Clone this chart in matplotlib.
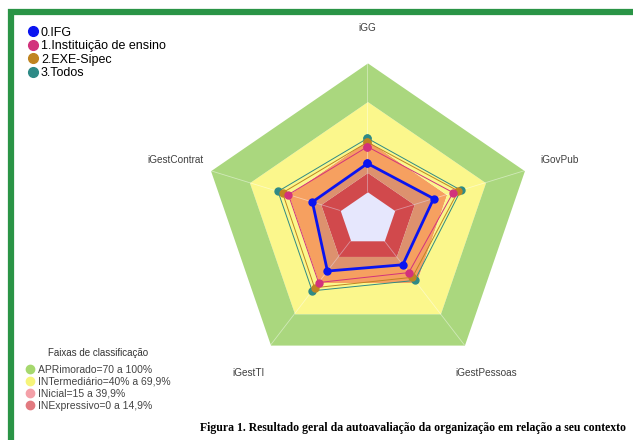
import numpy as np
import matplotlib.pyplot as plt
from matplotlib.lines import Line2D
from matplotlib.patches import Rectangle

axis_labels = ['iGG', 'iGovPub', 'iGestPessoas', 'iGestTI', 'iGestContrat']
series_names = ['0.IFG', '1.Instituição de ensino', '2.EXE-Sipec', '3.Todos']
ifg = [22, 30, 23, 29, 21.5]
instituicao = [35, 45, 30.5, 40, 40]
exe_sipec = [38.5, 49, 35, 45, 44.5]
todos = [41.5, 51, 38, 48, 48]
band_edges = [0, 15, 40, 70, 100]
band_names = ['APRimorado=70 a 100%', 'INTermediário=40% a 69,9%',
              'INicial=15 a 39,9%', 'INExpressivo=0 a 14,9%']
caption = 'Figura 1. Resultado geral da autoavaliação da organização em relação a seu contexto'

series = [ifg, instituicao, exe_sipec, todos]
series_colors = ['#0a14f0', '#d2327c', '#c08420', '#2e8a86']
band_colors = ['#e8503a', '#f6a060', '#fbf78c', '#aad77e']   # inner -> outer
legend_band_colors = ['#a6d86e', '#f6f47a', '#f4a0a8', '#e27a80']

plt.rcParams['font.family'] = ['Liberation Sans', 'DejaVu Sans']

fig = plt.figure(figsize=(6.33, 4.4), dpi=100)
ax = fig.add_axes([0.3199, 0.148, 0.5213, 0.709], projection='polar')
ax.set_theta_offset(np.pi / 2)
ax.set_theta_direction(-1)
ax.set_rorigin(-21)
ax.set_ylim(0, 100)
ax.set_aspect('auto')
ax.axis('off')

theta = np.arange(len(axis_labels)) * 2 * np.pi / len(axis_labels)
tc = np.append(theta, theta[0])

# classification bands
for i in range(len(band_edges) - 1):
    lo = np.full(len(tc), band_edges[i])
    hi = np.full(len(tc), band_edges[i + 1])
    ax.fill_between(tc, lo, hi, color=band_colors[i], lw=0, zorder=1, clip_on=False)

# spokes
for t in theta:
    ax.plot([t, t], [0, 100], color='white', lw=0.6, alpha=0.45, zorder=2)

# series
for vals, col, name in list(zip(series, series_colors, series_names))[::-1]:
    vc = np.append(vals, vals[0])
    if name == '0.IFG':
        ax.fill(tc, vc, color=col, alpha=0.1, lw=0, zorder=3, clip_on=False)
        ax.plot(tc, vc, color=col, lw=2, marker='o', ms=5, zorder=5)
    else:
        ax.plot(tc, vc, color=col, lw=0.7, marker='o', ms=5, zorder=4)

for t, lab in zip(theta, axis_labels):
    ax.text(t, 127, lab, ha='center', va='center', fontsize=7.2, color='#404040',
            clip_on=False)

# series legend
h1 = [Line2D([], [], ls='none', marker='o', ms=7, color=c) for c in series_colors]
fig.legend(h1, series_names, loc='upper left', bbox_to_anchor=(0.036, 0.951),
           frameon=False, fontsize=9, handlelength=0.8, handletextpad=0.25,
           labelspacing=0.12, borderaxespad=0)

# band legend
h2 = [Line2D([], [], ls='none', marker='o', ms=6, color=c) for c in legend_band_colors]
leg2 = fig.legend(h2, band_names, loc='lower left', bbox_to_anchor=(0.034, 0.057),
                  frameon=False, fontsize=7.5, handlelength=0.8, handletextpad=0.35,
                  labelspacing=0.2, borderaxespad=0, title='Faixas de classificação',
                  title_fontsize=7)
leg2._legend_box.sep = 5
for t in leg2.get_texts():
    t.set_color('#444444')
leg2.get_title().set_color('#333333')

fig.text(0.652, 1 - 428 / 440, caption, ha='center', va='center',
         family='Liberation Serif', weight='bold', fontsize=8.5)

# green frame
fig.add_artist(Rectangle((11 / 633, -0.2), 1.3, 1.2 - 11.5 / 440,
                         transform=fig.transFigure, fill=False,
                         edgecolor='#2a9446', lw=4.5))

fig.savefig('out.png', dpi=100)
